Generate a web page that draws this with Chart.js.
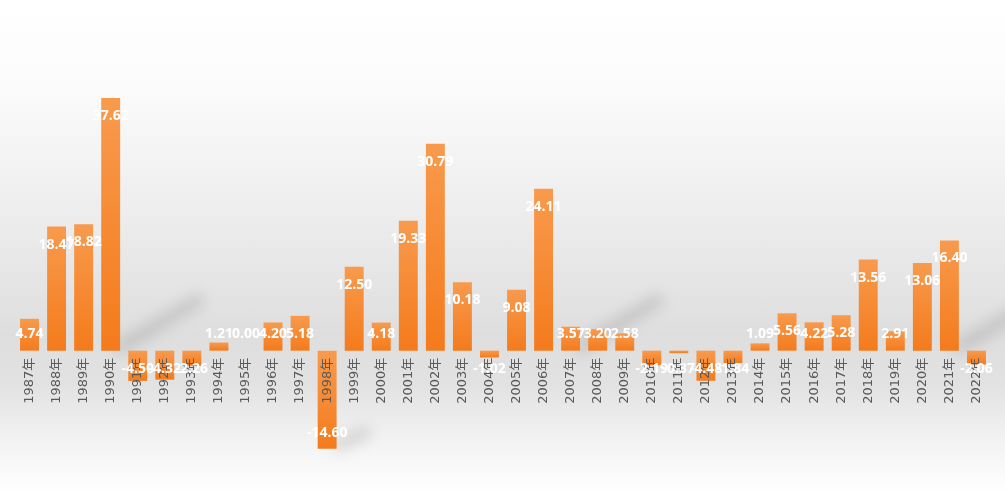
<!DOCTYPE html>
<html>
<head>
<meta charset="utf-8">
<script src="https://cdn.jsdelivr.net/npm/chart.js@4.4.0/dist/chart.umd.min.js"></script>
<style>
  html, body { margin: 0; padding: 0; }
  body {
    width: 1005px; height: 494px; overflow: hidden;
    background: linear-gradient(to bottom, #ffffff 0%, #fbfbfb 18%, #ececec 45%, #dedede 68%, #e2e2e2 78%, #f1f1f1 88%, #ffffff 100%);
  }
  #wrap { position: relative; width: 1005px; height: 494px; }
</style>
</head>
<body>
<div id="wrap"><canvas id="chart"></canvas></div>
<script>
// years on the x axis
const years = ['1987','1988','1989','1990','1991','1992','1993','1994','1995','1996','1997','1998',
  '1999','2000','2001','2002','2003','2004','2005','2006','2007','2008','2009','2010','2011',
  '2012','2013','2014','2015','2016','2017','2018','2019','2020','2021','2022'];
const labels = years.map(y => y + '年');

// growth rate (%) per year
const values = [4.74, 18.47, 18.82, 37.62, -4.50, -4.32, -2.26, 1.21, 0.00, 4.20, 5.18, -14.60,
  12.50, 4.18, 19.33, 30.79, 10.18, -1.02, 9.08, 24.11, 3.57, 3.20, 2.58, -2.19, -0.37,
  -4.48, -1.84, 1.09, 5.56, 4.22, 5.28, 13.56, 2.91, 13.06, 16.40, -2.06];

// years that throw a soft diagonal shadow on the backdrop
const shadowYears = ['1990', '2007', '2021'];

const barShadows = {
  id: 'barShadows',
  beforeDatasetsDraw(chart) {
    const ctx = chart.ctx;
    const x = chart.scales.x, y = chart.scales.y;
    const step = x.getPixelForValue(1) - x.getPixelForValue(0);
    const zero = y.getPixelForValue(0);
    ctx.save();
    ctx.filter = 'blur(7px)';
    ctx.strokeStyle = 'rgba(0,0,0,0.13)';
    ctx.lineCap = 'round';
    ctx.lineWidth = 12;
    shadowYears.forEach(yr => {
      const px = x.getPixelForValue(years.indexOf(yr));
      ctx.beginPath();
      ctx.moveTo(px + step * 0.4, zero - 4);
      ctx.lineTo(px + step * 3.2, zero - 50);
      ctx.stroke();
    });
    // the deep 1998 bar
    const i98 = years.indexOf('1998');
    const p98 = x.getPixelForValue(i98);
    const b98 = y.getPixelForValue(values[i98]);
    ctx.beginPath();
    ctx.moveTo(p98 + step * 0.4, b98 - 4);
    ctx.lineTo(p98 + step * 1.4, b98 - 16);
    ctx.stroke();
    ctx.restore();
  }
};

// white value labels, drawn last so they sit above the year labels
const valueLabels = {
  id: 'valueLabels',
  afterDraw(chart) {
    const ctx = chart.ctx;
    const zero = chart.scales.y.getPixelForValue(0);
    const meta = chart.getDatasetMeta(0);
    ctx.save();
    ctx.font = 'bold 14px "Open Sans", "DejaVu Sans", sans-serif';
    ctx.fillStyle = '#ffffff';
    ctx.textAlign = 'center';
    ctx.textBaseline = 'middle';
    meta.data.forEach((bar, i) => {
      const v = values[i];
      let cy;
      if (v >= 0) cy = Math.min(bar.y + 18, zero - 17);
      else cy = Math.max(bar.y - 16, zero + 18);
      ctx.fillText(v.toFixed(2), bar.x, cy);
    });
    ctx.restore();
  }
};

function barFill(c) {
  const chart = c.chart;
  if (!chart.chartArea || c.type !== 'data') return '#f5852a';
  const y = chart.scales.y;
  const v = c.raw;
  const top = y.getPixelForValue(Math.max(v, 0));
  const bot = y.getPixelForValue(Math.min(v, 0));
  if (bot - top < 1) return '#f5852a';
  const g = chart.ctx.createLinearGradient(0, top, 0, bot);
  g.addColorStop(0, '#f89a4d');
  g.addColorStop(1, '#f47b1c');
  return g;
}

new Chart(document.getElementById('chart'), {
  type: 'bar',
  data: {
    labels: labels,
    datasets: [{
      data: values,
      backgroundColor: barFill,
      borderWidth: 0,
      barPercentage: 0.7,
      categoryPercentage: 1.0
    }]
  },
  options: {
    responsive: true,
    maintainAspectRatio: false,
    animation: false,
    layout: { padding: { top: 82, bottom: 9, left: 16, right: 15 } },
    plugins: {
      legend: { display: false },
      tooltip: { enabled: false }
    },
    scales: {
      x: {
        position: { y: 0 },
        grid: { display: false, drawTicks: false },
        border: { display: false },
        ticks: {
          z: 1,
          color: '#595959',
          font: { size: 13, family: '"DejaVu Sans", "Noto Sans CJK SC", sans-serif' },
          minRotation: 90,
          maxRotation: 90,
          autoSkip: false,
          padding: 7
        },
        afterFit(scale) { scale.height = 0; }
      },
      y: {
        display: false,
        min: -20,
        max: 40
      }
    }
  },
  plugins: [barShadows, valueLabels]
});
</script>
</body>
</html>
